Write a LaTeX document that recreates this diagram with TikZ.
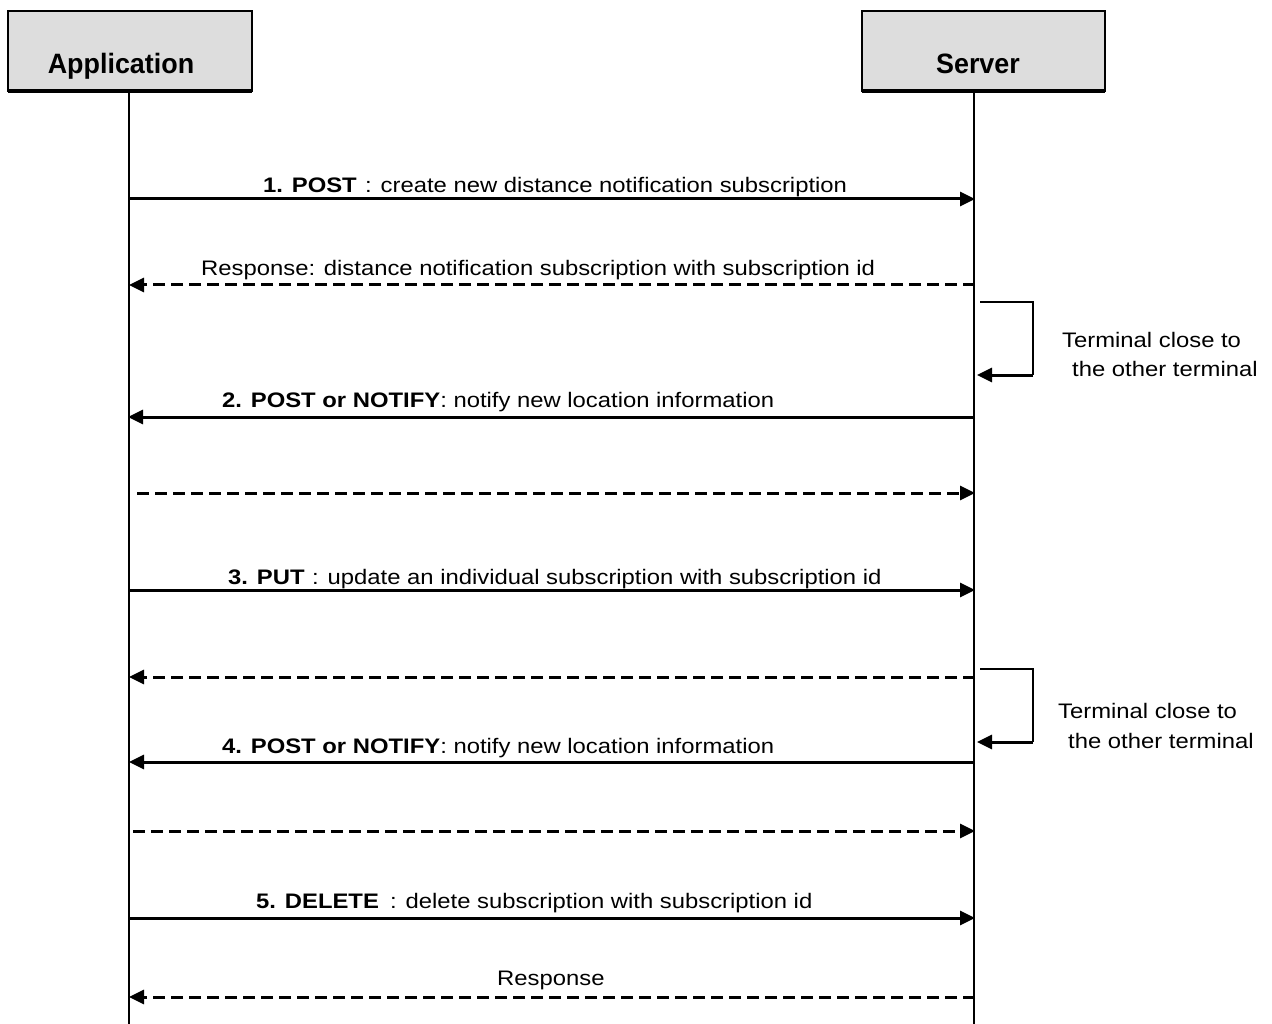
\documentclass[tikz,border=0pt]{standalone}
\usepackage{fontspec}
\setmainfont{Liberation Sans}
\newfontfamily\lblfont[FakeStretch=1.135]{Liberation Sans}
\newfontfamily\hdrfont[FakeStretch=0.96]{Liberation Sans}
\usetikzlibrary{arrows.meta}
\definecolor{boxgray}{HTML}{DDDDDD}
\begin{document}
\begin{tikzpicture}[x=1pt,y=-1pt,
  actorbox/.style={draw=black,line width=1.5pt,fill=boxgray},
  hdr/.style={font=\hdrfont\fontsize{28}{30}\selectfont\bfseries,anchor=base,inner sep=0pt},
  lifeline/.style={line width=2pt},
  msg/.style={line width=3pt,-{Triangle[length=15pt,width=14pt]}},
  reply/.style={msg,dash pattern=on 12pt off 6pt},
  lbl/.style={font=\lblfont\fontsize{21}{24}\selectfont,anchor=base west,inner sep=0pt},
  blbl/.style={lbl,font=\lblfont\fontsize{21}{24}\selectfont\bfseries},
  looparm/.style={line width=1.5pt},
  loopret/.style={line width=3pt,-{Triangle[length=15pt,width=14pt]}}
]
\useasboundingbox (0,0) rectangle (1272,1024);
\fill[white] (0,0) rectangle (1272,1024);

% actor boxes
\draw[actorbox] (8,11) rectangle (252,91);
\draw[line width=4.5pt] (8,91) -- (252,91);
\node[hdr] (apphdr) at (121,74) {Application};
\draw[actorbox] (862,11) rectangle (1105,91);
\draw[line width=4.5pt] (862,91) -- (1105,91);
\node[hdr] (srvhdr) at (978,74) {Server};

% lifelines
\coordinate (atop) at (129,93);
\coordinate (abot) at (129,1024);
\coordinate (stop) at (974,93);
\coordinate (sbot) at (974,1024);
\draw[lifeline] (atop) -- (abot);
\draw[lifeline] (stop) -- (sbot);

% message anchor points
\coordinate (a1) at (129,199);  \coordinate (s1) at (975,199);
\coordinate (a2) at (129,285);  \coordinate (s2) at (975,285);
\coordinate (a3) at (128,417);  \coordinate (s3) at (975,417);
\coordinate (a4) at (137,493);  \coordinate (s4) at (975,493);
\coordinate (a5) at (129,590);  \coordinate (s5) at (975,590);
\coordinate (a6) at (129,677);  \coordinate (s6) at (975,677);
\coordinate (a7) at (129,762);  \coordinate (s7) at (975,762);
\coordinate (a8) at (133,831);  \coordinate (s8) at (975,831);
\coordinate (a9) at (129,918);  \coordinate (s9) at (975,918);
\coordinate (a10) at (129,997); \coordinate (s10) at (975,997);

% messages
\draw[msg] (a1) -- (s1);
\node[blbl] (l1a) at (263,193) {1. POST};
\node[lbl] (l1b) at (365,193) {: create new distance notification subscription};

\draw[reply] (s2) -- (a2);
\node[lbl] (l2) at (201,276) {Response: distance notification subscription with subscription id};

\draw[msg] (s3) -- (a3);
\node[lbl] (l3) at (222,407) {\textbf{2. POST or NOTIFY}: notify new location information};

\draw[reply] (a4) -- (s4);

\draw[msg] (a5) -- (s5);
\node[blbl] (l5a) at (228,584) {3. PUT};
\node[lbl] (l5b) at (312,584) {: update an individual subscription with subscription id};

\draw[reply] (s6) -- (a6);

\draw[msg] (s7) -- (a7);
\node[lbl] (l7) at (222,753) {\textbf{4. POST or NOTIFY}: notify new location information};

\draw[reply] (a8) -- (s8);

\draw[msg] (a9) -- (s9);
\node[blbl] (l9a) at (256,908) {5. DELETE};
\node[lbl] (l9b) at (390,908) {: delete subscription with subscription id};

\draw[reply] (s10) -- (a10);
\node[lbl] (l10) at (497,985) {Response};

% self loops on server
\coordinate (p1s) at (980,302); \coordinate (p1c) at (1033,302);
\coordinate (p1d) at (1033,375); \coordinate (p1e) at (977,375);
\draw[looparm] (p1s) -- (p1c) -- (p1d);
\draw[loopret] (p1d) -- (p1e);
\node[lbl] (t1a) at (1062,348) {Terminal close to};
\node[lbl] (t1b) at (1072,377) {the other terminal};

\coordinate (p2s) at (980,669); \coordinate (p2c) at (1033,669);
\coordinate (p2d) at (1033,742); \coordinate (p2e) at (977,742);
\draw[looparm] (p2s) -- (p2c) -- (p2d);
\draw[loopret] (p2d) -- (p2e);
\node[lbl] (t2a) at (1058,718) {Terminal close to};
\node[lbl] (t2b) at (1068,748) {the other terminal};
\end{tikzpicture}
\end{document}
